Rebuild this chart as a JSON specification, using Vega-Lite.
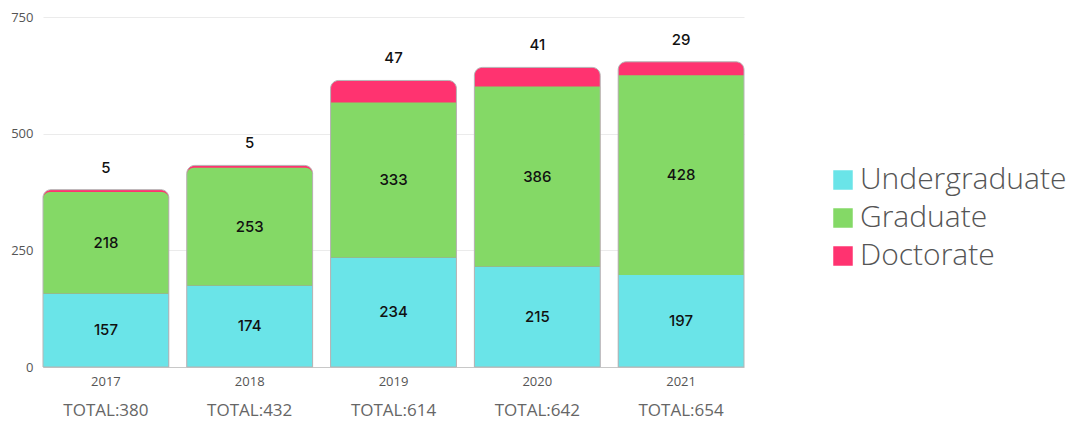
{
  "$schema": "https://vega.github.io/schema/vega-lite/v6.json",
  "autosize": {"type": "none"},
  "padding": {"left": 43, "top": 17, "right": 323, "bottom": 55},
  "width": 701,
  "height": 350,
  "config": {"view": {"stroke": null}, "font": "Open Sans"},
  "data": {"values": [
    {"year": "2017", "Undergraduate": 157, "Graduate": 218, "Doctorate": 5, "Total": 380},
    {"year": "2018", "Undergraduate": 174, "Graduate": 253, "Doctorate": 5, "Total": 432},
    {"year": "2019", "Undergraduate": 234, "Graduate": 333, "Doctorate": 47, "Total": 614},
    {"year": "2020", "Undergraduate": 215, "Graduate": 386, "Doctorate": 41, "Total": 642},
    {"year": "2021", "Undergraduate": 197, "Graduate": 428, "Doctorate": 29, "Total": 654}
  ]},
  "transform": [
    {"fold": ["Undergraduate", "Graduate", "Doctorate"], "as": ["key", "value"]},
    {"stack": "value", "groupby": ["year"], "sort": [{"field": "key", "order": "descending"}], "as": ["v0", "v1"]},
    {"calculate": "(datum.v0 + datum.v1) / 2", "as": "mid"}
  ],
  "encoding": {
    "x": {"field": "year", "type": "nominal", "scale": {"paddingInner": 0.125, "paddingOuter": 0},
      "axis": {"title": null, "labelAngle": 0, "labelColor": "#555", "labelFontSize": 13, "labelPadding": 8, "ticks": false, "domainColor": "#c8c8c8", "labelFont": "Open Sans"}}
  },
  "layer": [
    {
      "transform": [{"filter": "datum.key == 'Doctorate'"}],
      "mark": {"type": "bar", "cornerRadiusTopLeft": 8, "cornerRadiusTopRight": 8},
      "encoding": {
        "y": {"field": "v1", "type": "quantitative", "scale": {"domain": [0, 750], "nice": false},
          "axis": {"title": null, "values": [0, 250, 500, 750], "domain": false, "ticks": false, "labelPadding": 10, "labelColor": "#555", "labelFontSize": 13, "gridColor": "#ebebeb", "labelFont": "Open Sans"}},
        "y2": {"datum": 0},
        "color": {"field": "key", "type": "nominal",
          "scale": {"domain": ["Undergraduate", "Graduate", "Doctorate"], "range": ["#6ae4e8", "#84d966", "#ff3370"]},
          "legend": {"title": null, "orient": "none", "legendX": 785, "legendY": 148, "labelFontSize": 30, "labelFont": "Open Sans", "labelFontWeight": 300, "labelColor": "#555", "symbolType": "square", "symbolSize": 380, "symbolStrokeWidth": 0, "rowPadding": 8, "labelOffset": 2, "labelLimit": 400}}
      }
    },
    {
      "transform": [{"filter": "datum.key == 'Graduate' && datum.Doctorate < 20"}],
      "mark": {"type": "bar", "cornerRadiusTopLeft": 7, "cornerRadiusTopRight": 7},
      "encoding": {"y": {"field": "v1", "type": "quantitative"}, "y2": {"field": "v0"}, "color": {"field": "key", "type": "nominal"}}
    },
    {
      "transform": [{"filter": "datum.key == 'Graduate' && datum.Doctorate >= 20"}],
      "mark": {"type": "bar"},
      "encoding": {"y": {"field": "v1", "type": "quantitative"}, "y2": {"field": "v0"}, "color": {"field": "key", "type": "nominal"}}
    },
    {
      "transform": [{"filter": "datum.key == 'Undergraduate'"}],
      "mark": {"type": "bar"},
      "encoding": {"y": {"field": "v1", "type": "quantitative"}, "y2": {"field": "v0"}, "color": {"field": "key", "type": "nominal"}}
    },
    {
      "transform": [{"filter": "datum.key == 'Doctorate'"}],
      "mark": {"type": "bar", "cornerRadiusTopLeft": 8, "cornerRadiusTopRight": 8, "fillOpacity": 0, "stroke": "#b5b5b5", "strokeWidth": 1},
      "encoding": {"y": {"field": "v1", "type": "quantitative"}, "y2": {"datum": 0}}
    },
    {
      "transform": [{"filter": "datum.key != 'Doctorate'"}],
      "mark": {"type": "text", "font": "Inter", "fontSize": 15, "fontWeight": 500, "color": "#111", "baseline": "middle"},
      "encoding": {"y": {"field": "mid", "type": "quantitative"}, "text": {"field": "value", "type": "quantitative"}}
    },
    {
      "transform": [{"filter": "datum.key == 'Doctorate'"}],
      "mark": {"type": "text", "font": "Inter", "fontSize": 15, "fontWeight": 500, "color": "#111", "baseline": "middle", "dy": -22},
      "encoding": {"y": {"field": "v1", "type": "quantitative"}, "text": {"field": "value", "type": "quantitative"}}
    },
    {
      "transform": [{"filter": "datum.key == 'Doctorate'"}, {"calculate": "'TOTAL:' + datum.Total", "as": "totalLabel"}],
      "mark": {"type": "text", "font": "Open Sans", "fontSize": 17, "color": "#666", "baseline": "middle", "dy": 44},
      "encoding": {"y": {"datum": 0}, "text": {"field": "totalLabel", "type": "nominal"}}
    }
  ]
}
